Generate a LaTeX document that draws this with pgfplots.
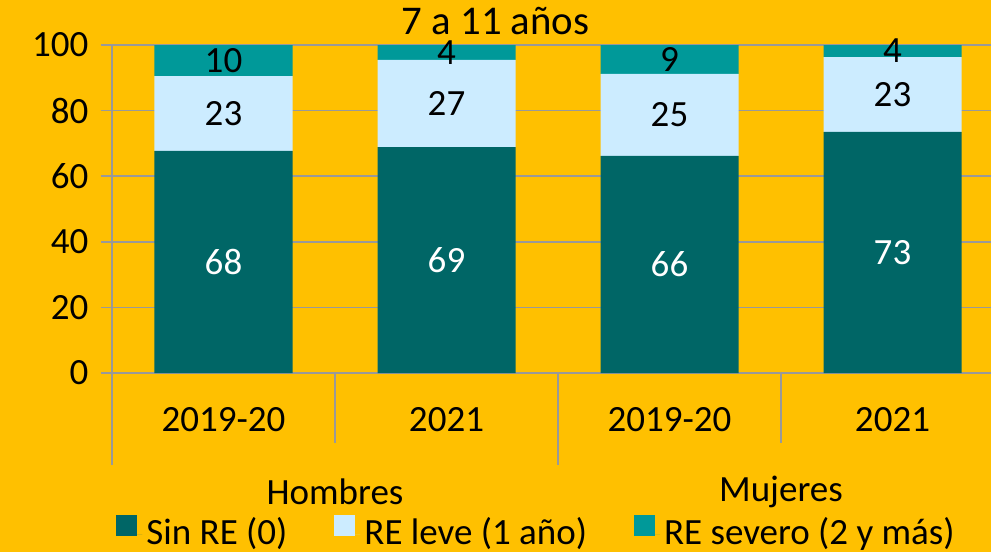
\documentclass[border=0pt]{standalone}
\usepackage{fontspec}
\setmainfont{Carlito}
\usepackage{pgfplots}
\pgfplotsset{compat=1.18}
\usepackage{pgfplotstable}
\definecolor{bg}{HTML}{FFC000}
\definecolor{sinre}{HTML}{006666}
\definecolor{leve}{HTML}{CCECFF}
\definecolor{severo}{HTML}{009999}
\definecolor{gridc}{HTML}{999999}

\pgfplotstableread{
x sin leve severo
0 67.7 22.8 9.5
1 68.9 26.6 4.5
2 66.2 25.0 8.8
3 73.5 22.8 3.7
}\data
\pgfplotstableread{
x msin lsin mleve lleve msev lsev
0 33.85 68 79.1 23 95.25 10
1 34.45 69 82.2 27 97.75 4
2 33.1 66 78.7 25 95.6 9
3 36.75 73 84.9 23 98.15 4
}\labels

\begin{document}
\fontsize{18.5}{22}\selectfont
\begin{tikzpicture}[font=\fontsize{18.5}{22}\selectfont]
\path[use as bounding box, fill=bg] (-56pt,-89.5pt) rectangle (439.5pt,186.5pt);
\clip (-56pt,-89.5pt) rectangle (439.5pt,186.5pt);
\node[anchor=base, font=\fontsize{20.4}{24}\selectfont] at (191.75pt,169pt) {7 a 11 años};
\begin{axis}[
  at={(0,0)}, anchor=south west,
  scale only axis, width=446pt, height=164pt,
  xmin=-0.5, xmax=3.5, ymin=0, ymax=100,
  ybar stacked, bar width=69pt,
  axis x line*=bottom, axis y line*=left,
  axis line style={gridc, line width=0.8pt},
  ytick={0,20,...,100},
  ymajorgrids, grid style={gridc, line width=0.8pt},
  ytick style={gridc, line width=0.8pt},
  tick align=outside, major tick length=5.5pt,
  xtick={0,1,2,3}, xtick style={draw=none},
  xticklabels={2019-20,2021,2019-20,2021},
  xticklabel style={yshift=-5.5pt},
  tick label style={font=\fontsize{18.5}{22}\selectfont, text=black},
  /pgf/number format/assume math mode=true,
  clip=false,
  legend columns=3,
  legend style={at={(-0.0022,-0.491)}, anchor=west, draw=none, fill=none,
    font=\fontsize{18.5}{22}\selectfont,
    /tikz/every even column/.append style={column sep=21.5pt}},
  legend image code/.code={\fill[#1] (0pt,-1pt) rectangle (10.5pt,9.5pt); \path (0pt,0pt) -- (13pt,0pt);},
]
\addplot[fill=sinre, draw=none] table[x=x, y=sin] {\data};
\addplot[fill=leve, draw=none] table[x=x, y=leve] {\data};
\addplot[fill=severo, draw=none] table[x=x, y=severo] {\data};
\legend{Sin RE (0), RE leve (1 año), RE severo (2 y más)}
\draw[gridc, line width=0.8pt] (axis cs:-0.5,0) -- ([yshift=-46pt]axis cs:-0.5,0);
\draw[gridc, line width=0.8pt] (axis cs:1.5,0) -- ([yshift=-46pt]axis cs:1.5,0);
\draw[gridc, line width=0.8pt] (axis cs:0.5,0) -- ([yshift=-35pt]axis cs:0.5,0);
\draw[gridc, line width=0.8pt] (axis cs:2.5,0) -- ([yshift=-35pt]axis cs:2.5,0);
\node at (axis cs:0.5,0) [yshift=-59.5pt] {Hombres};
\node at (axis cs:2.5,0) [yshift=-59.5pt] {Mujeres};
\end{axis}
\begin{axis}[
  at={(0,0)}, anchor=south west,
  scale only axis, width=446pt, height=164pt,
  xmin=-0.5, xmax=3.5, ymin=0, ymax=100,
  axis lines=none, ticks=none, clip=false,
  nodes near coords, point meta=explicit symbolic,
  every node near coord/.append style={anchor=center, font=\fontsize{18.5}{22}\selectfont},
]
\addplot[draw=none, mark=none, every node near coord/.append style={text=white}] table[x=x, y=msin, meta=lsin] {\labels};
\addplot[draw=none, mark=none, every node near coord/.append style={text=black}] table[x=x, y=mleve, meta=lleve] {\labels};
\addplot[draw=none, mark=none, every node near coord/.append style={text=black}] table[x=x, y=msev, meta=lsev] {\labels};
\end{axis}
\end{tikzpicture}
\end{document}
